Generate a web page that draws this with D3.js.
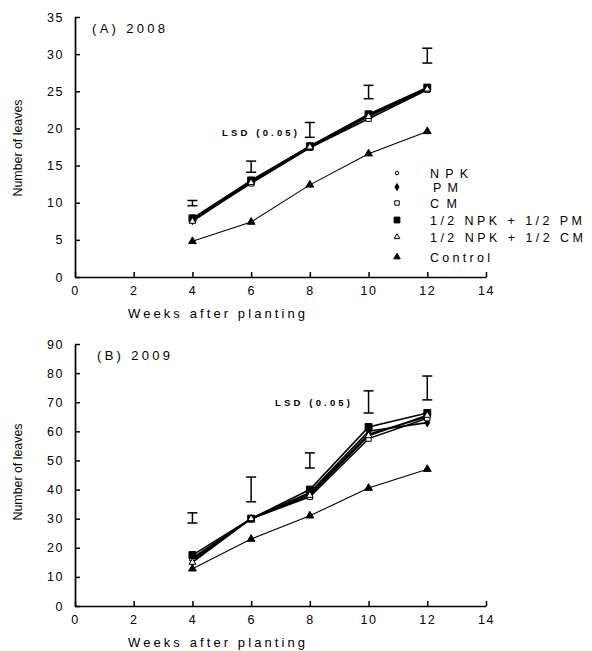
<!DOCTYPE html>
<html>
<head>
<meta charset="utf-8">
<script src="https://cdn.jsdelivr.net/npm/d3@7"></script>
<style>
  body { margin: 0; background: #fff; }
  text { font-family: "Liberation Sans", Arial, sans-serif; fill: #000; }
</style>
</head>
<body>
<div id="chart"></div>
<script>
// weeks after planting
var weeks = [4, 6, 8, 10, 12];
var seriesNames = ["NPK", "PM", "CM", "1/2 NPK + 1/2 PM", "1/2 NPK + 1/2 CM", "Control"];

// (A) 2008 - number of leaves
var npk2008     = [7.8, 12.8, 17.5, 21.7, 25.3];
var pm2008      = [7.6, 12.9, 17.6, 21.8, 25.4];
var cm2008      = [7.7, 12.6, 17.4, 21.3, 25.2];
var halfPm2008  = [7.9, 13.0, 17.6, 21.9, 25.5];
var halfCm2008  = [7.5, 12.7, 17.5, 21.6, 25.3];
var control2008 = [4.8, 7.4, 12.4, 16.6, 19.6];
var lsdLow2008  = [9.6, 14.1, 18.8, 24.0, 28.8];
var lsdHigh2008 = [10.3, 15.6, 20.8, 25.8, 30.8];

// (B) 2009
var npk2009     = [16.0, 30.0, 38.5, 59.0, 65.0];
var pm2009      = [15.5, 30.0, 39.0, 60.0, 63.0];
var cm2009      = [16.5, 30.0, 37.5, 57.5, 64.5];
var halfPm2009  = [17.5, 30.0, 40.0, 61.5, 66.3];
var halfCm2009  = [15.0, 30.0, 38.0, 58.5, 65.5];
var control2009 = [12.8, 23.0, 31.0, 40.5, 47.0];
var lsdLow2009  = [28.5, 35.8, 47.4, 66.3, 70.8];
var lsdHigh2009 = [32.0, 44.3, 52.6, 73.9, 79.0];

var xTicks = [0, 2, 4, 6, 8, 10, 12, 14];
var yTicks2008 = [0, 5, 10, 15, 20, 25, 30, 35];
var yTicks2009 = [0, 10, 20, 30, 40, 50, 60, 70, 80, 90];

// marker look per series
var markers = [
  {type: d3.symbolCircle,   size: 14, fill: "#fff"},
  {type: d3.symbolDiamond,  size: 20, fill: "#000"},
  {type: d3.symbolSquare,   size: 28, fill: "#fff"},
  {type: d3.symbolSquare,   size: 48, fill: "#000"},
  {type: d3.symbolTriangle, size: 20, fill: "#fff"},
  {type: d3.symbolTriangle, size: 26, fill: "#000"}
];

var svg = d3.select("#chart").append("svg")
  .attr("width", 592).attr("height", 651);

function drawPanel(p) {
  var x = d3.scaleLinear().domain([0, 14]).range([75, 486]);
  var y = d3.scaleLinear().domain([0, p.ymax]).range([p.y0, p.ytop]);
  var g = svg.append("g");

  // axes, ticks point inward
  var xa = g.append("g").attr("transform", "translate(0," + p.y0 + ")")
    .call(d3.axisBottom(x).tickValues(xTicks).tickSizeInner(-5).tickSizeOuter(0).tickPadding(9));
  var ya = g.append("g").attr("transform", "translate(75,0)")
    .call(d3.axisLeft(y).tickValues(p.yTicks).tickSizeInner(-5).tickSizeOuter(0).tickPadding(11));
  [xa, ya].forEach(function(a) {
    a.select(".domain").attr("stroke", "#000").attr("stroke-width", 1.7);
    a.selectAll(".tick line").attr("stroke", "#000").attr("stroke-width", 1.5);
    a.selectAll(".tick text").attr("font-size", 12.5).attr("fill", "#000")
      .style("font-family", "Liberation Sans, Arial, sans-serif")
      .attr("letter-spacing", "1.5px");
  });

  // axis titles
  g.append("text").attr("x", 128).attr("y", p.y0 + 41)
    .attr("font-size", 13).attr("textLength", 177).attr("lengthAdjust", "spacing")
    .text("Weeks after planting");
  g.append("text")
    .attr("transform", "translate(22," + p.ymid + ") rotate(-90)")
    .attr("text-anchor", "middle").attr("font-size", 12.5)
    .attr("textLength", 97).attr("lengthAdjust", "spacingAndGlyphs")
    .text("Number of leaves");

  g.append("text").attr("x", p.titleX).attr("y", p.ytop + 16)
    .attr("font-size", 13).attr("textLength", 73).attr("lengthAdjust", "spacing")
    .text(p.title);

  // LSD bars
  weeks.forEach(function(w, i) {
    var cx = x(w), y1 = y(p.lsdLow[i]), y2 = y(p.lsdHigh[i]);
    g.append("line").attr("x1", cx).attr("x2", cx).attr("y1", y1).attr("y2", y2)
      .attr("stroke", "#000").attr("stroke-width", 1.5);
    [y1, y2].forEach(function(yy) {
      g.append("line").attr("x1", cx - 5).attr("x2", cx + 5).attr("y1", yy).attr("y2", yy)
        .attr("stroke", "#000").attr("stroke-width", 1.5);
    });
  });
  g.append("text").attr("x", p.lsdX).attr("y", p.lsdY).attr("font-size", 9.5)
    .attr("font-weight", "bold").attr("fill", "#222")
    .attr("textLength", 75).attr("lengthAdjust", "spacing")
    .text("LSD (0.05)");

  // lines: the treatment bundle heavier, control thin
  var line = d3.line().x(function(d, i) { return x(weeks[i]); }).y(function(d) { return y(d); });
  p.series.forEach(function(s, k) {
    g.append("path").attr("d", line(s)).attr("fill", "none")
      .attr("stroke", "#000").attr("stroke-width", k == 5 ? 1.1 : 1.6);
  });
  // markers
  p.series.forEach(function(s, k) {
    var m = markers[k];
    s.forEach(function(v, i) {
      g.append("path").attr("d", d3.symbol().type(m.type).size(m.size)())
        .attr("transform", "translate(" + x(weeks[i]) + "," + y(v) + ")")
        .attr("fill", m.fill).attr("stroke", "#000").attr("stroke-width", 1);
    });
  });
  return g;
}

drawPanel({
  title: "(A) 2008", titleX: 92, y0: 277, ytop: 17, ymax: 35, ymid: 148,
  yTicks: yTicks2008, lsdLow: lsdLow2008, lsdHigh: lsdHigh2008, lsdX: 222, lsdY: 136,
  series: [npk2008, pm2008, cm2008, halfPm2008, halfCm2008, control2008]
});
drawPanel({
  title: "(B) 2009", titleX: 97, y0: 606, ytop: 344, ymax: 90, ymid: 472,
  yTicks: yTicks2009, lsdLow: lsdLow2009, lsdHigh: lsdHigh2009, lsdX: 275, lsdY: 406,
  series: [npk2009, pm2009, cm2009, halfPm2009, halfCm2009, control2009]
});

// legend (panel A), markers a bit smaller than on the lines
var legendY = [173, 187, 203, 220, 237, 257];
var legendW = [38, 25, 27, 152, 153, 60];
var leg = svg.append("g");
seriesNames.forEach(function(name, k) {
  var m = markers[k];
  leg.append("path").attr("d", d3.symbol().type(m.type).size(m.size * 0.7)())
    .attr("transform", "translate(397," + legendY[k] + ")")
    .attr("fill", m.fill).attr("stroke", "#000").attr("stroke-width", 1);
  leg.append("text").attr("x", k == 1 ? 433 : 430).attr("y", legendY[k] + 5)
    .attr("font-size", 12.5).attr("textLength", legendW[k]).attr("lengthAdjust", "spacing")
    .text(name);
});
</script>
</body>
</html>
